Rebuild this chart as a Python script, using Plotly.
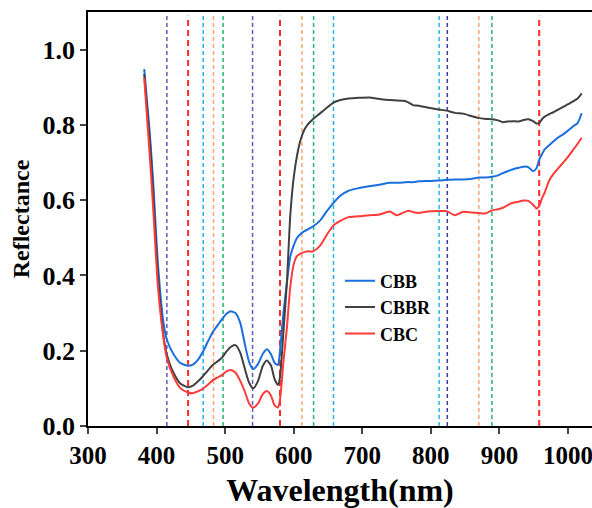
import plotly.graph_objects as go

wavelength = [382, 390, 395, 402, 410, 415, 425, 435, 446, 453, 460, 467, 475, 482, 490, 496,
              502, 508, 515, 522, 529, 535, 541, 548, 555, 561, 567, 572, 577, 580, 585, 590,
              595, 600, 605, 610, 615, 620, 628, 638, 648, 658, 668, 680, 695, 710, 725, 740,
              750, 760, 767, 775, 782, 795, 811, 823, 835, 847, 860, 870, 880, 889, 898, 905,
              912, 920, 928, 935, 942, 949, 954, 958, 962, 966, 972, 978, 985, 993, 1000, 1008,
              1014, 1020]

cbb = [0.948, 0.78, 0.65, 0.43, 0.275, 0.229, 0.19, 0.167, 0.160, 0.163, 0.175, 0.195, 0.225,
       0.250, 0.270, 0.285, 0.298, 0.305, 0.300, 0.274, 0.215, 0.170, 0.151, 0.165, 0.192,
       0.204, 0.190, 0.168, 0.162, 0.20, 0.30, 0.38, 0.45, 0.48, 0.50, 0.51, 0.517, 0.522,
       0.530, 0.545, 0.570, 0.593, 0.612, 0.625, 0.632, 0.637, 0.641, 0.646, 0.646, 0.647,
       0.648, 0.648, 0.650, 0.651, 0.652, 0.654, 0.655, 0.655, 0.657, 0.660, 0.660, 0.662,
       0.666, 0.672, 0.677, 0.682, 0.686, 0.689, 0.688, 0.677, 0.685, 0.708, 0.722, 0.735,
       0.745, 0.755, 0.766, 0.775, 0.785, 0.797, 0.805, 0.831]

cbbr = [0.935, 0.76, 0.62, 0.40, 0.24, 0.19, 0.14, 0.112, 0.103, 0.107, 0.118, 0.131, 0.148,
        0.162, 0.173, 0.183, 0.198, 0.210, 0.215, 0.195, 0.150, 0.115, 0.100, 0.120, 0.160,
        0.174, 0.160, 0.125, 0.109, 0.13, 0.25, 0.38, 0.56, 0.66, 0.72, 0.76, 0.785, 0.80,
        0.815, 0.830, 0.845, 0.859, 0.866, 0.870, 0.872, 0.873, 0.869, 0.866, 0.865, 0.864,
        0.860, 0.852, 0.851, 0.846, 0.841, 0.838, 0.832, 0.830, 0.823, 0.818, 0.816, 0.815,
        0.812, 0.807, 0.809, 0.810, 0.809, 0.813, 0.815, 0.810, 0.804, 0.805, 0.815, 0.822,
        0.828, 0.833, 0.840, 0.848, 0.855, 0.863, 0.870, 0.884]

cbc = [0.925, 0.72, 0.58, 0.37, 0.235, 0.18, 0.13, 0.10, 0.089, 0.087, 0.092, 0.098, 0.110,
       0.122, 0.130, 0.136, 0.145, 0.149, 0.142, 0.120, 0.090, 0.060, 0.049, 0.060, 0.085,
       0.093, 0.080, 0.055, 0.049, 0.07, 0.17, 0.26, 0.37, 0.43, 0.452, 0.458, 0.462, 0.464,
       0.464, 0.478, 0.507, 0.533, 0.545, 0.555, 0.557, 0.560, 0.562, 0.570, 0.560, 0.567,
       0.572, 0.568, 0.566, 0.570, 0.571, 0.571, 0.560, 0.569, 0.567, 0.566, 0.565, 0.573,
       0.576, 0.580, 0.587, 0.593, 0.596, 0.599, 0.598, 0.588, 0.578, 0.585, 0.605, 0.620,
       0.650, 0.668, 0.683, 0.700, 0.715, 0.735, 0.750, 0.766]

# characteristic bands marked with dashed lines
band_wl = [415, 446, 468, 483, 497, 540, 580, 612, 629, 658, 812, 824, 870, 889, 958]
band_color = ["#5b5bc4", "#ff2a2a", "#1fb8e6", "#f5a878", "#22b573", "#5b5bc4", "#ff2a2a",
              "#f5a878", "#22b573", "#1fb8e6", "#1fb8e6", "#3a3aa8", "#f5a878", "#22b573",
              "#ff2a2a"]

FONT = "Liberation Serif"

fig = go.Figure()
for name, vals, color in [("CBB", cbb, "#1a6fdf"), ("CBBR", cbbr, "#404040"), ("CBC", cbc, "#ff3b3b")]:
    fig.add_trace(go.Scatter(x=wavelength, y=vals, mode="lines", name=f"<b>{name}</b>",
                             line=dict(color=color, width=2, shape="spline", smoothing=0.6)))

for wl, col in zip(band_wl, band_color):
    is_red = col == "#ff2a2a"
    fig.add_shape(type="line", x0=wl, x1=wl, y0=0, y1=1.09, xref="x", yref="y", layer="below",
                  line=dict(color=col, width=2 if is_red else 1.5, dash="6px,4px" if is_red else "4px,3px"))

fig.update_layout(
    width=592, height=508,
    margin=dict(l=88, r=0, t=12, b=82),
    paper_bgcolor="white", plot_bgcolor="white",
    font=dict(family=FONT, color="black"),
    showlegend=True,
    legend=dict(x=0.5, y=0.395, xanchor="left", yanchor="top", bgcolor="rgba(0,0,0,0)",
                font=dict(family=FONT, size=18, color="black"), tracegroupgap=0, itemwidth=30),
)
fig.update_xaxes(range=[300, 1035], tickvals=[300, 400, 500, 600, 700, 800, 900, 1000],
                 ticks="outside", ticklen=6, tickwidth=1.5, showline=True, linewidth=1.5,
                 linecolor="black", mirror=True, showgrid=False, zeroline=False, automargin=False,
                 ticklabeloverflow="allow",
                 tickfont=dict(family=FONT, size=25, weight="bold"),
                 title=dict(text="<b>Wavelength(nm)</b>", font=dict(family=FONT, size=32), standoff=14))
fig.update_yaxes(range=[0, 1.1], tickvals=[0, 0.2, 0.4, 0.6, 0.8, 1.0], tickformat=".1f",
                 ticks="outside", ticklen=6, tickwidth=1.5, showline=True, linewidth=1.5,
                 linecolor="black", mirror=False, showgrid=False, zeroline=False, automargin=False,
                 tickfont=dict(family=FONT, size=26, weight="bold"),
                 title=dict(text="<b>Reflectance</b>", font=dict(family=FONT, size=24), standoff=6))

# drop the default page margin so the figure sits at the window's top-left corner
fig.write_html("out.html", config={"displayModeBar": False},
               post_script="document.body.style.margin='0';")
